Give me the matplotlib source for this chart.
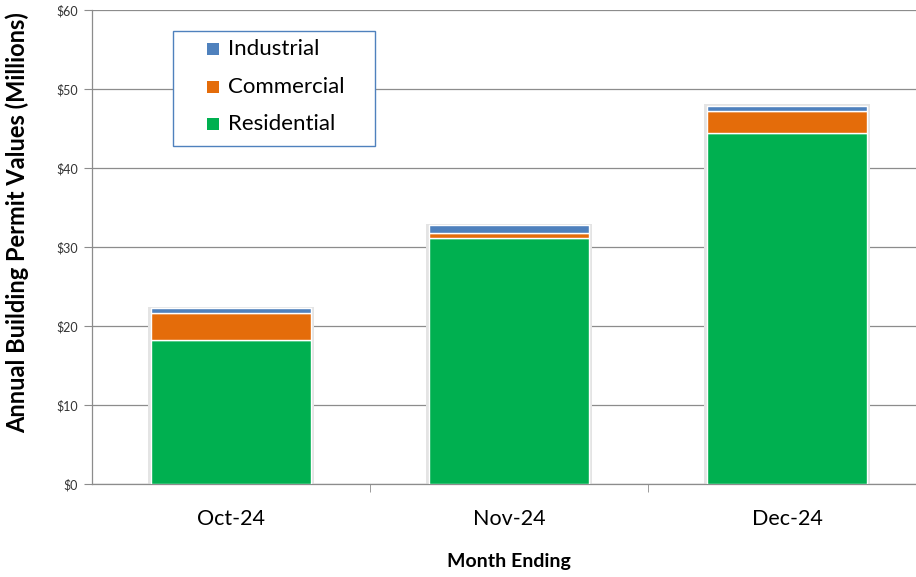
import matplotlib
matplotlib.use("Agg")
import matplotlib.pyplot as plt
import numpy as np
from matplotlib.patches import Rectangle

categories = ["Oct-24", "Nov-24", "Dec-24"]
residential = [18.2, 31.2, 44.4]
commercial = [3.5, 0.6, 2.8]
industrial = [0.6, 1.0, 0.7]
yticks = [0, 10, 20, 30, 40, 50, 60]
ytick_labels = ["$0", "$10", "$20", "$30", "$40", "$50", "$60"]
legend_labels = ["Industrial", "Commercial", "Residential"]

c_res = "#00B050"
c_com = "#E46C0A"
c_ind = "#4F81BD"

plt.rcParams['font.family'] = ['Lato', 'DejaVu Sans']

W, H = 916, 577
fig = plt.figure(figsize=(W/100, H/100), dpi=100)
ax = fig.add_axes([92/W, 1-484/H, 834/W, 474/H])

x = np.arange(len(categories))
w = 0.575
res = np.array(residential)
com = np.array(commercial)
ind = np.array(industrial)
total = res + com + ind

# faint shadow
ax.bar(x, total + 0.25, width=w + 0.02, bottom=-0.1, color="#e4e4e4", zorder=2, linewidth=0)
ax.bar(x, res, width=w, color=c_res, edgecolor="white", linewidth=1, zorder=3)
ax.bar(x, com, bottom=res, width=w, color=c_com, edgecolor="white", linewidth=1, zorder=3)
ax.bar(x, ind, bottom=res + com, width=w, color=c_ind, edgecolor="white", linewidth=1, zorder=3)

ax.set_xlim(-0.5, 2.5)
ax.set_ylim(0, 60)
ax.set_yticks(yticks)
ax.set_yticklabels(ytick_labels, fontsize=9, color="#333333")
ax.yaxis.grid(True, color="#8c8c8c", linewidth=0.9, zorder=0)
ax.set_axisbelow(True)

ax.set_xticks(x)
ax.set_xticklabels(categories, fontsize=15.5)
ax.set_xticks([0.5, 1.5], minor=True)
ax.tick_params(axis="x", which="major", length=0, pad=18)
ax.tick_params(axis="x", which="minor", length=6, color="#8c8c8c", direction="out")
ax.tick_params(axis="y", length=6, color="#8c8c8c", direction="out", pad=4)

for s in ["top", "right"]:
    ax.spines[s].set_visible(False)
for s in ["left", "bottom"]:
    ax.spines[s].set_color("#8c8c8c")
    ax.spines[s].set_linewidth(0.9)

ax.set_ylabel("Annual Building Permit Values (Millions)", fontsize=17, fontweight="bold")
ax.yaxis.set_label_coords((29 - 92) / 834, (484 - 223) / 474)
ax.set_xlabel("Month Ending", fontsize=14, fontweight="bold", labelpad=17)

# manual legend box (pixel layout)
def fx(px):
    return px / W
def fy(py):
    return 1 - py / H

fig.patches.append(Rectangle((fx(173), fy(146)), fx(375) - fx(173), fy(31) - fy(146),
                             transform=fig.transFigure, facecolor="white",
                             edgecolor="#4F81BD", linewidth=1, zorder=5))
for lab, col, cy in zip(legend_labels, [c_ind, c_com, c_res], [49, 87, 124]):
    fig.patches.append(Rectangle((fx(207), fy(cy + 6)), fx(12), fy(0) - fy(12),
                                 transform=fig.transFigure, facecolor=col,
                                 edgecolor="none", zorder=6))
    fig.text(fx(228), fy(cy), lab, fontsize=16, va="center", ha="left", zorder=6)

fig.savefig("out.png", dpi=100)
